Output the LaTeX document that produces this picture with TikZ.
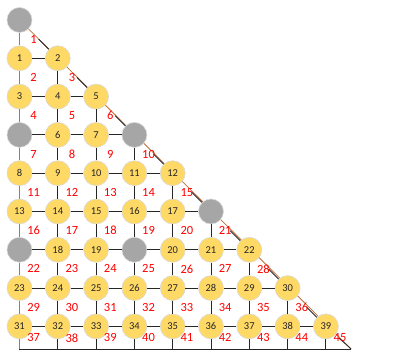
\documentclass[tikz,border=0pt]{standalone}
\usepackage{fontspec}
\setmainfont{Carlito}
\usetikzlibrary{backgrounds,calc}
\definecolor{nodeyellow}{HTML}{FFD966}
\definecolor{nodegray}{HTML}{A6A6A6}
\definecolor{edgebrown}{HTML}{C0703A}
\begin{document}
\begin{tikzpicture}[x=38.3pt, y=-38.3pt,
  cell/.style={circle, draw=gray!30, line width=0.6pt, fill=nodeyellow,
               minimum size=25pt, inner sep=0pt, text=black!85,
               font=\fontsize{10.5}{10.5}\selectfont},
  hole/.style={cell, fill=nodegray},
  link/.style={line width=0.8pt, black!85},
  rim/.style={line width=0.8pt, edgebrown},
  num/.style={text=red, inner sep=0pt, font=\fontsize{12.5}{12.5}\selectfont}
]
\useasboundingbox (-0.509,-0.522) rectangle (10.379,8.642);
% rows of the triangle, named r<row>c<column>
\node[hole] (r0c0) at (0,0) {};
\node[cell] (r1c0) at (0,1) {1}; \node[cell] (r1c1) at (1,1) {2};
\node[cell] (r2c0) at (0,2) {3}; \node[cell] (r2c1) at (1,2) {4};
\node[cell] (r2c2) at (2,2) {5};
\node[hole] (r3c0) at (0,3) {};  \node[cell] (r3c1) at (1,3) {6};
\node[cell] (r3c2) at (2,3) {7}; \node[hole] (r3c3) at (3,3) {};
\node[cell] (r4c0) at (0,4) {8};  \node[cell] (r4c1) at (1,4) {9};
\node[cell] (r4c2) at (2,4) {10}; \node[cell] (r4c3) at (3,4) {11};
\node[cell] (r4c4) at (4,4) {12};
\node[cell] (r5c0) at (0,5) {13}; \node[cell] (r5c1) at (1,5) {14};
\node[cell] (r5c2) at (2,5) {15}; \node[cell] (r5c3) at (3,5) {16};
\node[cell] (r5c4) at (4,5) {17}; \node[hole] (r5c5) at (5,5) {};
\node[hole] (r6c0) at (0,6) {};   \node[cell] (r6c1) at (1,6) {18};
\node[cell] (r6c2) at (2,6) {19}; \node[hole] (r6c3) at (3,6) {};
\node[cell] (r6c4) at (4,6) {20}; \node[cell] (r6c5) at (5,6) {21};
\node[cell] (r6c6) at (6,6) {22};
\node[cell] (r7c0) at (0,7) {23}; \node[cell] (r7c1) at (1,7) {24};
\node[cell] (r7c2) at (2,7) {25}; \node[cell] (r7c3) at (3,7) {26};
\node[cell] (r7c4) at (4,7) {27}; \node[cell] (r7c5) at (5,7) {28};
\node[cell] (r7c6) at (6,7) {29}; \node[cell] (r7c7) at (7,7) {30};
\node[cell] (r8c0) at (0,8) {31}; \node[cell] (r8c1) at (1,8) {32};
\node[cell] (r8c2) at (2,8) {33}; \node[cell] (r8c3) at (3,8) {34};
\node[cell] (r8c4) at (4,8) {35}; \node[cell] (r8c5) at (5,8) {36};
\node[cell] (r8c6) at (6,8) {37}; \node[cell] (r8c7) at (7,8) {38};
\node[cell] (r8c8) at (8,8) {39};
% bottom edge
\foreach \cl in {0,...,8} \coordinate (b\cl) at (\cl,8.59);
\coordinate (corner) at (8.66,8.59);
% grid links
\foreach \rw in {1,...,8} {
  \pgfmathtruncatemacro\last{\rw-1}
  \foreach \cl in {0,...,\last} {
    \pgfmathtruncatemacro\nx{\cl+1}
    \draw[link] (r\rw c\cl) -- (r\rw c\nx);
  }
}
\foreach \rw in {1,...,7} {
  \pgfmathtruncatemacro\nx{\rw+1}
  \foreach \cl in {1,...,\rw} \draw[link] (r\rw c\cl) -- (r\nx c\cl);
}
\foreach \cl in {1,...,8} \draw[link] (r8c\cl) -- (b\cl);
\draw[link] (b0) -- (corner);
% left edge and hypotenuse
\foreach \rw in {0,...,7} {
  \pgfmathtruncatemacro\nx{\rw+1}
  \draw[rim] (r\rw c0) -- (r\nx c0);
}
\draw[rim] (r8c0) -- (b0);
\begin{pgfonlayer}{background}
  \draw[rim] (r0c0.center) -- (corner);
\end{pgfonlayer}
\foreach \rw in {0,...,7} {
  \pgfmathtruncatemacro\nx{\rw+1}
  \draw[link] ($(r\rw c\rw)!0.5!(r\nx c\nx)$) -- (r\nx c\nx);
}
\draw[link] ($(r8c8)!0.5!(corner)$) -- (corner);
% cell numbers
\foreach \rw in {1,...,9} {
  \pgfmathtruncatemacro\last{\rw-1}
  \pgfmathsetmacro\yy{min(\rw-0.5,8.3)}
  \foreach \cl in {0,...,\last} {
    \pgfmathtruncatemacro\k{\rw*(\rw-1)/2+\cl+1}
    \node[num] (l\k) at (\cl+0.37,\yy) {\k};
  }
}
\end{tikzpicture}
\end{document}
